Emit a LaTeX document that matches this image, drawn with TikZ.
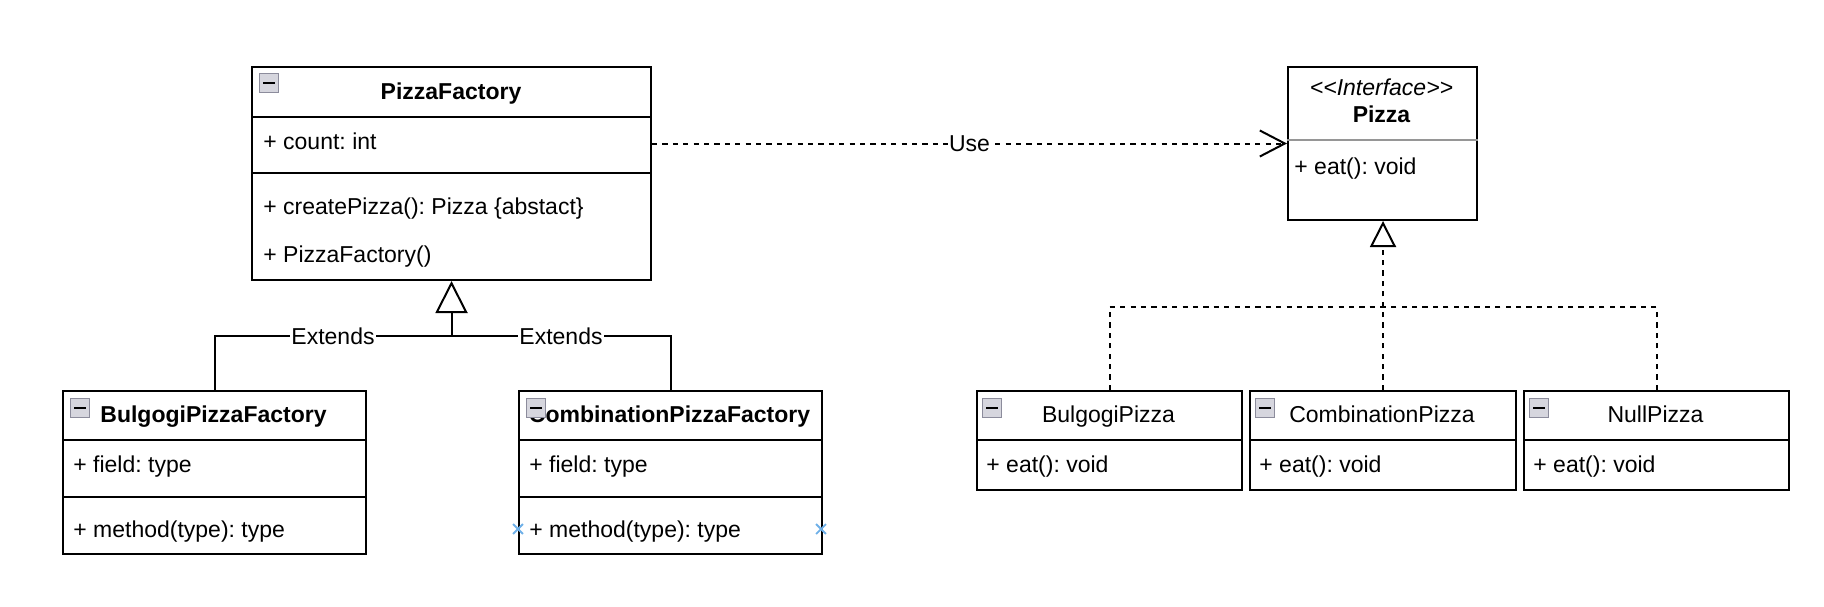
\documentclass[tikz,border=0pt]{standalone}
\usepackage{fontspec}
\setmainfont{Liberation Sans}
\usetikzlibrary{arrows.meta,calc,shapes.misc}
\definecolor{icfill}{RGB}{214,214,222}
\definecolor{icline}{RGB}{140,140,156}
\definecolor{selblue}{RGB}{110,176,232}
\definecolor{divgray}{RGB}{150,150,150}

\begin{document}
\frenchspacing
\begin{tikzpicture}
[x=0.5pt,y=-0.5pt,
font=\fontsize{11.5}{13.8}\selectfont,
cls/.style={draw,line width=1pt,inner sep=0pt,anchor=north west},
tx/.style={inner sep=0pt,anchor=base west},
hd/.style={inner sep=0pt,anchor=base,font=\fontsize{11.5}{13.8}\selectfont\bfseries},
hn/.style={inner sep=0pt,anchor=base},
ic/.style={rectangle,draw=icline,fill=icfill,line width=0.6pt,minimum size=9.2pt,inner sep=0pt,
  path picture={\draw[line width=1pt,black] ([xshift=1.7pt]path picture bounding box.west) -- ([xshift=-1.7pt]path picture bounding box.east);}},
lb/.style={fill=white,inner sep=0.6pt},
dep/.style={line width=1pt,dash pattern=on 2.6pt off 2.6pt},
gen/.style={line width=1pt,-{Triangle[fill=white,length=16pt,width=16pt]}},
rea/.style={dep,-{Triangle[fill=white,length=13pt,width=13pt]}},
sel/.style={cross out,draw=selblue,line width=0.9pt,minimum size=4pt,inner sep=0pt}]
\useasboundingbox (0,0) rectangle (1824,606);
% PizzaFactory
\node[cls,minimum width=199.5pt,minimum height=25pt] (pf) at (251,66) {};
\node[cls,minimum width=199.5pt,minimum height=28pt] (pfa) at (251,116) {};
\node[cls,minimum width=199.5pt,minimum height=53.5pt] (pfm) at (251,172) {};
\node[ic] (pfi) at (269,83) {};
\node[hd] (pft) at (451,99) {PizzaFactory};
\node[tx] (pf1) at (263,149) {+ count: int};
\node[tx] (pf2) at (263,214) {+ createPizza(): Pizza \{abstact\}};
\node[tx] (pf3) at (263,262) {+ PizzaFactory()};
% BulgogiPizzaFactory
\node[cls,minimum width=151.5pt,minimum height=24.5pt] (bpf) at (62,390) {};
\node[cls,minimum width=151.5pt,minimum height=28.5pt] (bpfa) at (62,439) {};
\node[cls,minimum width=151.5pt,minimum height=28.5pt] (bpfm) at (62,496) {};
\node[ic] (bpfi) at (80,408) {};
\node[hd] (bpft) at (213.5,422) {BulgogiPizzaFactory};
\node[tx] (bpf1) at (73,472) {+ field: type};
\node[tx] (bpf2) at (73,537) {+ method(type): type};
% CombinationPizzaFactory
\node[cls,minimum width=151.5pt,minimum height=24.5pt] (cpf) at (518,390) {};
\node[cls,minimum width=151.5pt,minimum height=28.5pt] (cpfa) at (518,439) {};
\node[cls,minimum width=151.5pt,minimum height=28.5pt] (cpfm) at (518,496) {};
\node[hd] (cpft) at (669.5,422) {CombinationPizzaFactory};
\node[ic] (cpfi) at (536,408) {};
\node[tx] (cpf1) at (529,472) {+ field: type};
\node[tx] (cpf2) at (529,537) {+ method(type): type};
\node[sel] (xl) at (518,529) {};
\node[sel] (xr) at (821,529) {};
% Pizza
\node[cls,minimum width=94.5pt,minimum height=76.5pt] (pz) at (1287,66) {};
\coordinate (pzd) at (1287,140);
\draw[divgray,line width=0.7pt] (pzd) -- (pzd -| pz.east);
\node[hn,font=\fontsize{11.5}{13.8}\selectfont\itshape] (pzs) at (1381.5,95) {<\kern0pt<Interface>\kern0pt>};
\node[hd] (pzt) at (1381.5,122) {Pizza};
\node[tx] (pz1) at (1294,174) {+ eat(): void};
% BulgogiPizza, CombinationPizza, NullPizza
\node[cls,minimum width=132.5pt,minimum height=24.5pt] (bp) at (976,390) {};
\node[cls,minimum width=132.5pt,minimum height=25pt] (bpa) at (976,439) {};
\node[ic] (bpi) at (992,408) {};
\node[hn] (bpt) at (1108.5,422) {BulgogiPizza};
\node[tx] (bp1) at (986,472) {+ eat(): void};
\node[cls,minimum width=133pt,minimum height=24.5pt] (cp) at (1249,390) {};
\node[cls,minimum width=133pt,minimum height=25pt] (cpa) at (1249,439) {};
\node[ic] (cpi) at (1265,408) {};
\node[hn] (cpt) at (1382,422) {CombinationPizza};
\node[tx] (cp1) at (1259,472) {+ eat(): void};
\node[cls,minimum width=132.5pt,minimum height=24.5pt] (np) at (1523,390) {};
\node[cls,minimum width=132.5pt,minimum height=25pt] (npa) at (1523,439) {};
\node[ic] (npi) at (1539,408) {};
\node[hn] (npt) at (1655.5,422) {NullPizza};
\node[tx] (np1) at (1533,472) {+ eat(): void};
% connectors
\coordinate (fork) at ($(pfm.south)+(0,55)$);
\coordinate (rfork) at ($(pz.south)+(0,86)$);
\draw[line width=1pt] (bpf.north) |- node[lb,pos=0.75] {Extends} (fork);
\draw[line width=1pt] (cpf.north) |- node[lb,pos=0.75] {Extends} (fork);
\draw[gen] (fork) -- (pfm.south);
\draw[dep,-{Straight Barb[length=12.5pt,width=13pt]}] (pz.west -| pfa.east) -- node[lb] {Use} (pz.west);
\draw[dep] (bp.north) |- (rfork);
\draw[dep] (np.north) |- (rfork);
\draw[rea] (cp.north) -- (cp.north |- pz.south);
\end{tikzpicture}
\end{document}
